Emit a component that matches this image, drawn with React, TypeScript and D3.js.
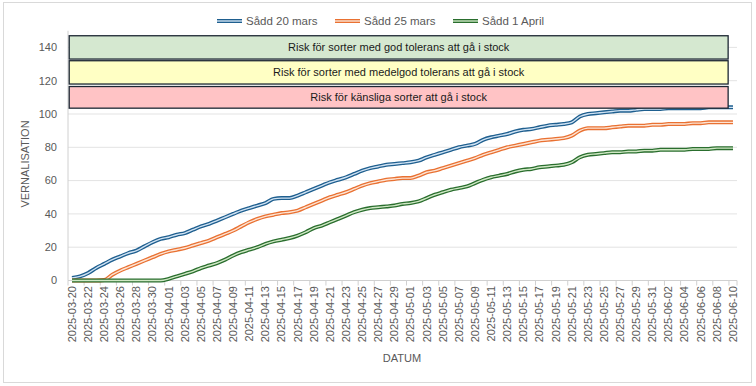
import React from "react";
import * as d3 from "d3";

const startDate = new Date(Date.UTC(2025, 2, 20));
const endDate = new Date(Date.UTC(2025, 5, 11));
const fmt = d3.utcFormat("%Y-%m-%d");
const categories: string[] = d3.utcDay.range(startDate, endDate).map((d) => fmt(d));

const sadd20mars = [
  1.5, 2.5, 4.5, 7.5, 10, 12.5, 14.5, 16.5, 18, 20.5, 23, 25, 26, 27.5, 28.5, 30.5, 32.5, 34, 36, 38,
  40, 42, 43.5, 45, 46.5, 49, 49.5, 49.5, 51, 53, 55, 57, 59, 60.5, 62, 64, 66, 67.5, 68.5, 69.5,
  70, 70.5, 71, 72, 74, 75.5, 77, 78.5, 80, 81, 82, 84.5, 86, 87, 88, 89.5, 90.5, 91, 92, 93,
  93.5, 94, 95, 98.5, 100, 100.5, 101, 101.5, 102, 102, 102.5, 103, 103, 103, 103.5, 103.5, 103.5, 103.5, 103.5, 104,
  104, 104, 104,
];
const sadd25mars = [
  0, 0, 0, 0, 0.3, 3.5, 6, 8, 10, 12, 14, 16, 17.5, 18.5, 19.5, 21, 22.5, 24, 26, 28,
  30, 32.5, 35, 37, 38.5, 39.5, 40.5, 41, 42, 44, 46, 48, 50, 51.5, 53, 55, 57, 58.5, 59.5, 60.5,
  61, 61.5, 61.5, 63, 65, 66, 67.5, 69, 70.5, 72, 73.5, 75.5, 77, 78.5, 80, 81, 82, 83, 84, 84.5,
  85, 85.5, 87, 90, 91.5, 91.5, 91.5, 92, 92.5, 93, 93, 93, 93.5, 93.5, 94, 94, 94, 94.5, 94.5, 95,
  95, 95, 95,
];
const sadd1april = [
  0, 0, 0, 0, 0, 0, 0, 0, 0, 0, 0, 0, 1, 2.5, 4, 5.5, 7.5, 9, 10.5, 12.5,
  15, 17, 18.5, 20, 22, 23.5, 24.5, 25.5, 27, 29, 31.5, 33, 35, 37, 39, 41, 42.5, 43.5, 44, 44.5,
  45, 46, 46.5, 47.5, 49.5, 51.5, 53, 54.5, 55.5, 56.5, 58.5, 60.5, 62, 63, 64, 65.5, 66.5, 67, 68, 68.5,
  69, 69.5, 71, 74, 75.5, 76, 76.5, 77, 77, 77.5, 77.5, 78, 78, 78.5, 78.5, 78.5, 78.5, 79, 79, 79,
  79.5, 79.5, 79.5,
];

const seriesNames = ["Sådd 20 mars", "Sådd 25 mars", "Sådd 1 April"];
const seriesValues = [sadd20mars, sadd25mars, sadd1april];
const outerColors = ["#1f5f8f", "#e97132", "#2a6e2e"];
const innerColors = ["#cfe2f3", "#fde4d4", "#cfe8c4"];

const yTicks = [0, 20, 40, 60, 80, 100, 120, 140];

const bandLabels = [
  "Risk för sorter med god tolerans att gå i stock",
  "Risk för sorter med medelgod tolerans att gå i stock",
  "Risk för känsliga sorter att gå i stock",
];
const bandLow = [133, 118, 103.5];
const bandHigh = [147, 132, 116.5];
const bandFill = ["#d5e8d0", "#ffffc4", "#ffc3c5"];

export default function App() {
  const W = 756;
  const H = 386;
  const left = 68;
  const right = 737;
  const x = d3.scaleLinear().domain([-0.5, categories.length - 0.5]).range([left, right]);
  const y = d3.scaleLinear().domain([0, 150]).range([280.5, 30.75]);
  const line = d3
    .line<number>()
    .x((_, i) => x(i))
    .y((d) => y(d))
    .curve(d3.curveMonotoneX);

  const font = "'Liberation Sans', Arial, sans-serif";
  const gray = "#595959";

  const legendX = [217, 335, 453];

  return (
    <svg
      width={W}
      height={H}
      style={{ position: "absolute", left: 0, top: 0, background: "#fff" }}
      fontFamily={font}
    >
      <rect x={3.5} y={2.5} width={748} height={380} fill="#fff" stroke="#d9d9d9" />
      {/* gridlines */}
      {yTicks.map((t) => (
        <line key={t} x1={left} x2={right} y1={y(t)} y2={y(t)} stroke="#e3e3e3" strokeWidth={1} />
      ))}
      {/* y axis line */}
      <line x1={left} x2={left} y1={y(150)} y2={y(0)} stroke="#d0d0d0" />
      {/* x axis */}
      <line x1={left} x2={right} y1={y(0)} y2={y(0)} stroke="#d0d0d0" />
      {categories.map((c, i) =>
        i % 2 === 0 ? (
          <line key={"t" + c} x1={x(i - 0.5)} x2={x(i - 0.5)} y1={y(0)} y2={y(0) + 5} stroke="#d0d0d0" />
        ) : null
      )}
      <line x1={right} x2={right} y1={y(0)} y2={y(0) + 5} stroke="#d0d0d0" />
      {/* y tick labels */}
      {yTicks.map((t) => (
        <text key={"yl" + t} x={57} y={y(t)} dy="0.35em" textAnchor="end" fontSize={11} fill={gray}>
          {t}
        </text>
      ))}
      {/* x tick labels */}
      {categories.map((c, i) =>
        i % 2 === 0 ? (
          <text
            key={"xl" + c}
            transform={`translate(${x(i)},${286}) rotate(-90)`}
            textAnchor="end"
            dy="0.35em"
            fontSize={11}
            fill={gray}
          >
            {c}
          </text>
        ) : null
      )}
      {/* axis titles */}
      <text x={402} y={362} textAnchor="middle" fontSize={11} fill={gray}>
        DATUM
      </text>
      <text transform={`translate(29,${164}) rotate(-90)`} textAnchor="middle" fontSize={11} fill={gray}>
        VERNALISATION
      </text>
      {/* series */}
      {seriesValues.map((vals, k) => (
        <g key={"s" + k}>
          <path d={line(vals) || ""} fill="none" stroke={outerColors[k]} strokeWidth={4} strokeLinejoin="round" />
          <path d={line(vals) || ""} fill="none" stroke={innerColors[k]} strokeWidth={1.4} strokeLinejoin="round" />
        </g>
      ))}
      {/* risk bands */}
      {bandLabels.map((lab, k) => (
        <g key={"b" + k}>
          <rect
            x={x(-0.35)}
            y={y(bandHigh[k])}
            width={x(81.4) - x(-0.35)}
            height={y(bandLow[k]) - y(bandHigh[k])}
            fill={bandFill[k]}
            stroke="#1d2733"
            strokeWidth={1.3}
          />
          <text
            x={(x(-0.35) + x(81.4)) / 2}
            y={(y(bandHigh[k]) + y(bandLow[k])) / 2}
            dy="0.35em"
            textAnchor="middle"
            fontSize={11}
            fill="#1a1a1a"
          >
            {lab}
          </text>
        </g>
      ))}
      {/* legend */}
      {seriesNames.map((n, k) => (
        <g key={"lg" + k}>
          <line x1={legendX[k]} x2={legendX[k] + 25} y1={21} y2={21} stroke={outerColors[k]} strokeWidth={4} />
          <line x1={legendX[k]} x2={legendX[k] + 25} y1={21} y2={21} stroke={innerColors[k]} strokeWidth={1.4} />
          <text x={legendX[k] + 29} y={21} dy="0.35em" fontSize={11.5} fill={gray}>
            {n}
          </text>
        </g>
      ))}
    </svg>
  );
}
